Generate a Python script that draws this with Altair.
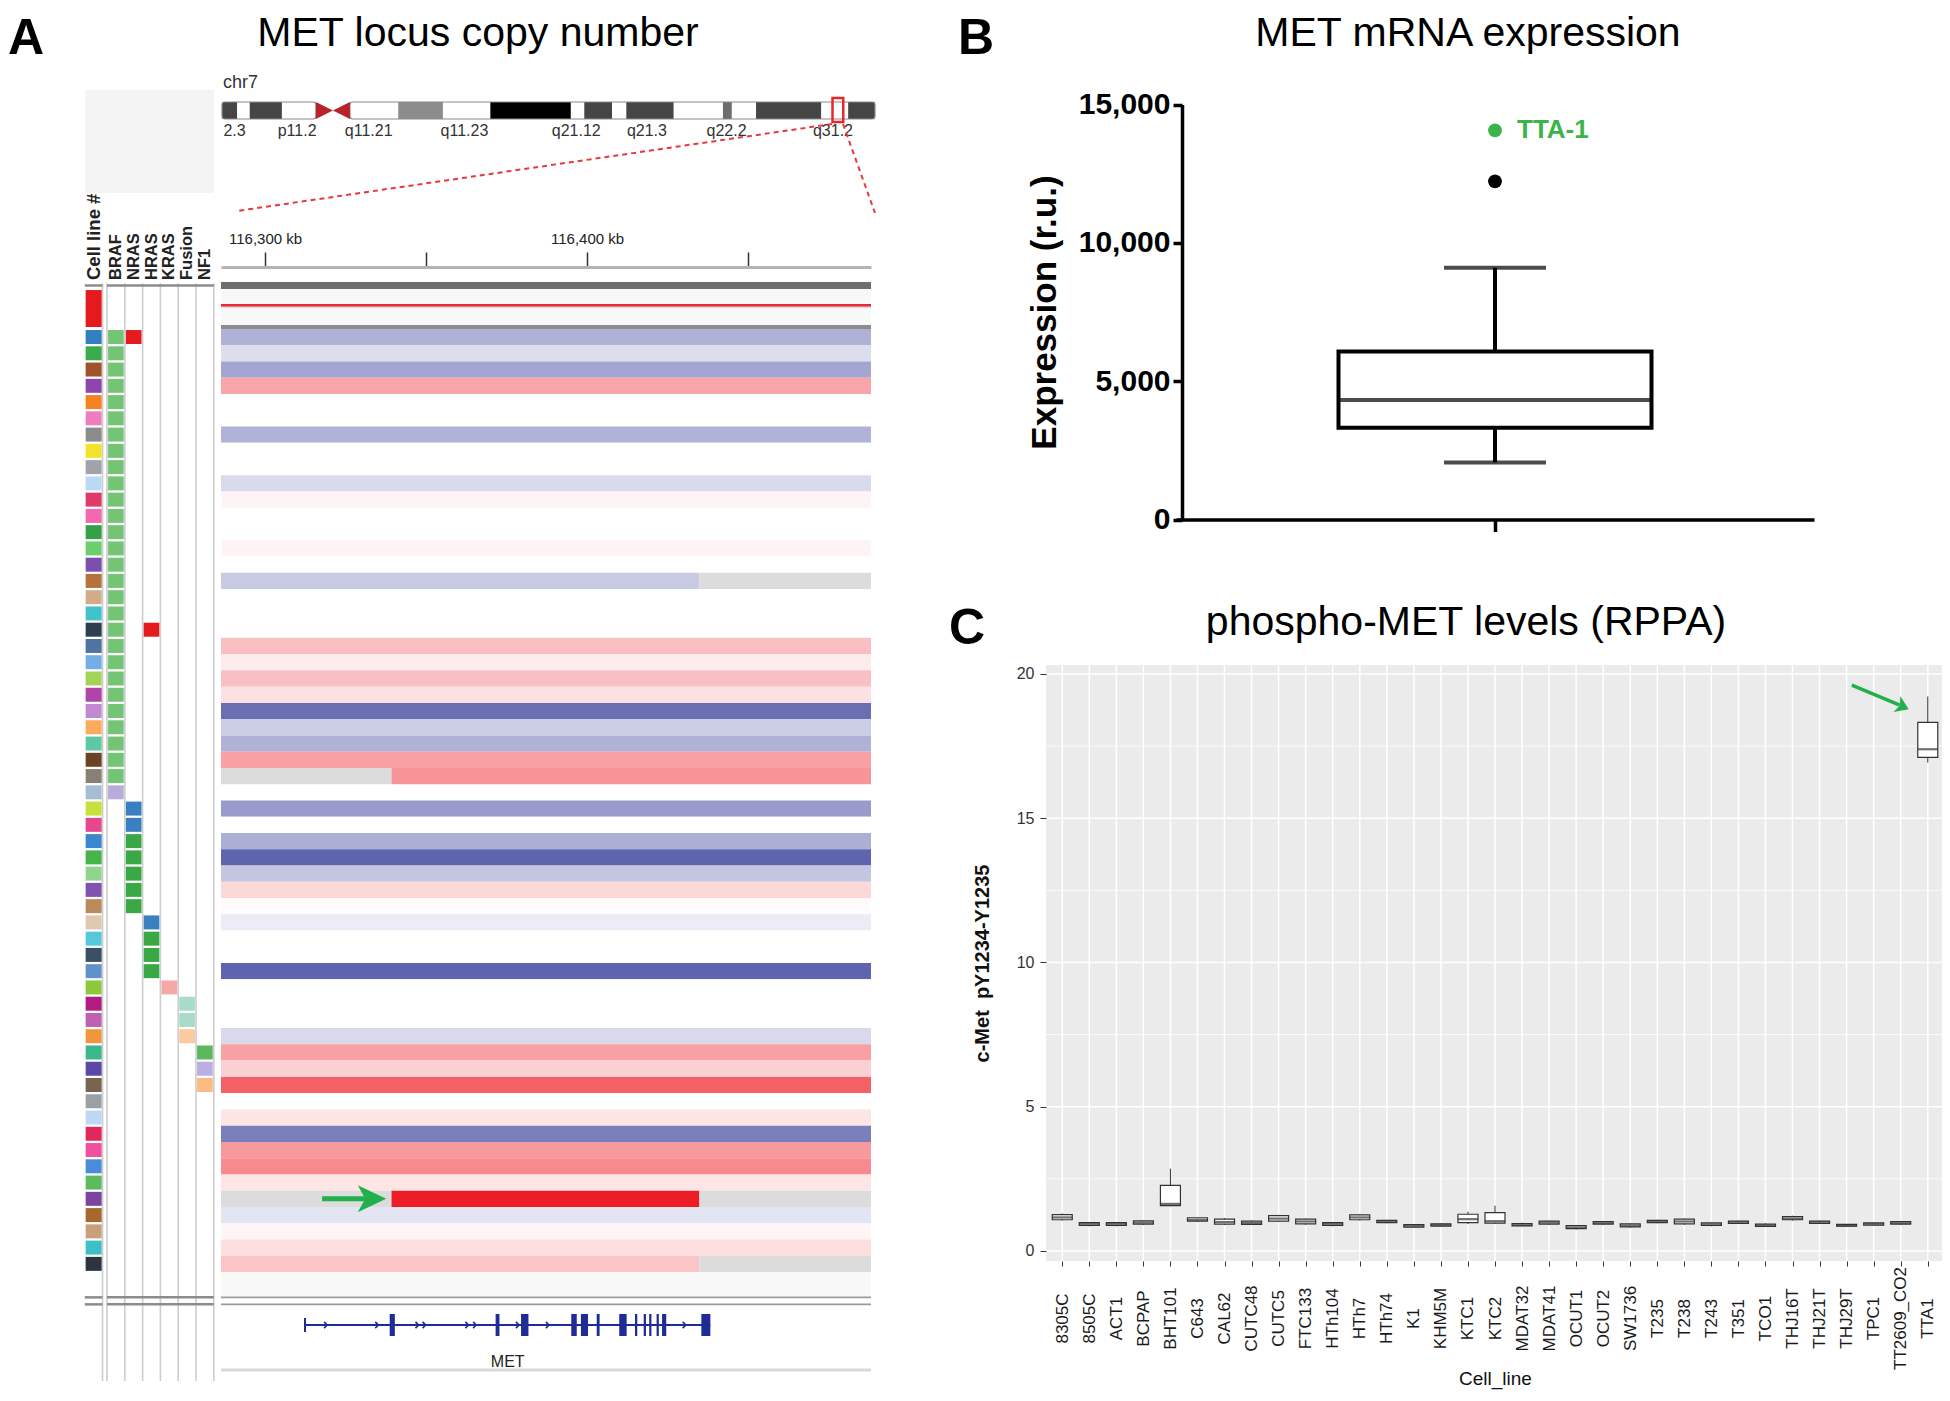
import altair as alt
import pandas as pd

FONT = "Liberation Sans"
W, H = 1934, 1385
GREEN = "#21b04b"
NAVY = "#202c96"

# ===================== Panel A : data =====================
ROWS = list(range(1, 59))

CELL_LINE_COLORS = [
    "#2f7fc1", "#3cab4a", "#a0522d", "#8e44ad", "#f58220", "#f07cc0", "#8c8c8c", "#f2e22a", "#a0a4a8", "#b9d9f5",
    "#e03a6a", "#f368b0", "#35a045", "#6ccf6c", "#7b4fae", "#b5723c", "#d2ab88", "#42c2cc", "#2c3e50", "#4f74a0",
    "#73aee6", "#a4d455", "#b044a8", "#c18ad0", "#fcaa5c", "#5cc8a4", "#6b4426", "#8a7f74", "#a8bcd4", "#c8e03c",
    "#e8468e", "#3a87d0", "#45b449", "#8ed68e", "#8252b0", "#b88a5c", "#e0c8b0", "#55c8dc", "#3a4e66", "#6092c8",
    "#8cc83c", "#b01c80", "#c060b0", "#f0963c", "#3cb88c", "#5a4aa8", "#7a6450", "#9aa0a6", "#bcd8f4", "#e0285c",
    "#f050a0", "#4a8cd8", "#5cbc5c", "#7c44a0", "#a8682c", "#c8a07c", "#3cc0c4", "#2c3440",
]

GENES = ["BRAF", "NRAS", "HRAS", "KRAS", "Fusion", "NF1"]
HEADERS = ["Cell line #"] + GENES
HEADER_POS = [-0.75, 0.5, 1.5, 2.5, 3.5, 4.5, 5.5]

MUT_ROW = [1, 2, 3, 4, 5, 6, 7, 8, 9, 10, 11, 12, 13, 14, 15, 16, 17, 18, 19, 20,
           21, 22, 23, 24, 25, 26, 27, 28, 29,
           1, 30, 31, 32, 33, 34, 35, 36,
           19, 37, 38, 39, 40,
           41,
           42, 43, 44,
           45, 46, 47]
MUT_GENE = ["BRAF"] * 29 + ["NRAS"] * 8 + ["HRAS"] * 5 + ["KRAS"] + ["Fusion"] * 3 + ["NF1"] * 3
MUT_KIND = (["V600E"] * 28 + ["non-V600E"]
            + ["co-mutation", "Q61R", "Q61R", "Q61K", "Q61K", "Q61K", "Q61K", "Q61K"]
            + ["co-mutation", "Q61R", "Q61K", "Q61K", "Q61K"]
            + ["G12/13"]
            + ["fusion-1", "fusion-1", "fusion-2"]
            + ["NF1-a", "NF1-b", "NF1-c"])
KIND_DOMAIN = ["V600E", "non-V600E", "co-mutation", "Q61R", "Q61K", "G12/13",
               "fusion-1", "fusion-2", "NF1-a", "NF1-b", "NF1-c"]
KIND_COLORS = ["#74c476", "#b9acdc", "#e41a1c", "#3a7fc0", "#3aa845", "#f4a9a8",
               "#a8dcc8", "#fdc99f", "#5cb85c", "#bcaee0", "#fdbb84"]

# log2 copy-number ratio of each row over the MET window (None = row with breakpoints)
CN_LOG2 = [
    -0.60, -0.26, -0.69, 0.59, 0.00, 0.00, -0.59, 0.00, 0.00, -0.28,
    0.07, 0.00, 0.00, 0.07, 0.00, None, 0.00, 0.00, 0.00, 0.42,
    0.13, 0.42, 0.20, -1.11, -0.38, -0.60, 0.63, None, 0.00, -0.77,
    0.00, -0.63, -1.20, -0.44, 0.26, 0.03, -0.15, 0.00, 0.00, -1.20,
    0.00, 0.00, 0.00, -0.29, 0.63, 0.31, 1.05, 0.00, 0.17, -0.99,
    0.67, 0.77, 0.18, None, -0.20, 0.06, 0.22, None,
]
VIEW_KB = [116286.3, 116488.2]
SEG_ROW = [16, 16, 28, 28, 54, 54, 54, 58, 58]
SEG_FROM = [None, 116434.9, None, 116339.2, None, 116339.2, 116434.9, None, 116434.9]
SEG_TO = [116434.9, None, 116339.2, None, 116339.2, 116434.9, None, 116434.9, None]
SEG_VAL = [-0.41, None, None, 0.71, None, 1.50, None, 0.38, None]

# MET gene model (kb)
GENE_START, GENE_END = 116312.4, 116438.3
EXON_START = [116338.7, 116371.6, 116379.5, 116395.1, 116398.1, 116403.0, 116410.0,
              116414.9, 116417.6, 116419.3, 116421.6, 116423.3, 116435.5]
EXON_END = [116340.3, 116372.8, 116381.8, 116396.8, 116400.3, 116403.9, 116412.3,
            116415.6, 116418.3, 116420.0, 116422.3, 116424.6, 116438.3]
CHEVRON_KB = [116318.8, 116334.7, 116347.2, 116349.4, 116362.7, 116365.1, 116378.4, 116387.7, 116430.2]
RULER_TICKS = [116300, 116350, 116400, 116450]

# chr7 ideogram (Mb)
BAND_START = [47.5, 49.2, 50.6, 54.2, 61.8, 67.2, 72.2, 77.5, 86.5, 88.0, 91.1, 92.7, 98.0, 103.5, 104.5, 107.2, 114.5, 117.5]
BAND_END = [49.2, 50.6, 54.2, 58.0, 67.2, 72.2, 77.5, 86.5, 88.0, 91.1, 92.7, 98.0, 103.5, 104.5, 107.2, 114.5, 117.5, 120.5]
BAND_STAIN = ["gpos75", "gneg", "gpos75", "gneg", "gneg", "gpos25", "gneg", "gpos100", "gneg",
              "gpos75", "gneg", "gpos75", "gneg", "gpos50", "gneg", "gpos75", "gneg", "gpos75"]
STAIN_DOMAIN = ["gneg", "gpos25", "gpos50", "gpos75", "gpos100"]
STAIN_COLORS = ["#ffffff", "#8c8c8c", "#6e6e6e", "#454545", "#000000"]
CEN_MB = [58.0, 59.9, 61.8]
CEN_LO = [0.0, 0.5, 0.0]
CEN_HI = [1.0, 0.5, 1.0]
ARM_START = [47.5, 61.8]
ARM_END = [58.0, 120.5]
VIEW_BOX_MB = [115.75, 116.95]
BAND_LABEL = ["2.3", "p11.2", "q11.21", "q11.23", "q21.12", "q21.3", "q22.2", "q31.2"]
BAND_LABEL_MB = [48.9, 55.9, 63.9, 74.6, 87.1, 95.0, 103.9, 115.8]

# ===================== Panel B : data =====================
MRNA_GROUP = ["MET"]
MRNA_MIN, MRNA_Q1, MRNA_MED, MRNA_Q3, MRNA_MAX = 2065, 3320, 4320, 6070, 9100
MRNA_OUTLIER = [12225]
MRNA_TTA1 = [14070]
MRNA_TTA1_LABEL = ["TTA-1"]
MRNA_TICKS = [0, 5000, 10000, 15000]

# ===================== Panel C : data =====================
C_CELLS = ["8305C", "8505C", "ACT1", "BCPAP", "BHT101", "C643", "CAL62", "CUTC48", "CUTC5", "FTC133",
           "HTh104", "HTh7", "HTh74", "K1", "KHM5M", "KTC1", "KTC2", "MDAT32", "MDAT41", "OCUT1",
           "OCUT2", "SW1736", "T235", "T238", "T243", "T351", "TCO1", "THJ16T", "THJ21T", "THJ29T",
           "TPC1", "TT2609_CO2", "TTA1"]
C_MIN = [1.05, 0.85, 0.85, 0.90, 1.55, 1.00, 0.90, 0.90, 1.00, 0.90, 0.85, 1.05, 0.96, 0.80, 0.84, 0.93, 0.93,
         0.85, 0.90, 0.74, 0.90, 0.80, 0.96, 0.90, 0.85, 0.93, 0.83, 1.05, 0.93, 0.84, 0.87, 0.90, 16.93]
C_Q1 = [1.08, 0.88, 0.88, 0.93, 1.57, 1.03, 0.93, 0.92, 1.03, 0.94, 0.88, 1.08, 0.98, 0.82, 0.86, 0.98, 0.96,
        0.87, 0.93, 0.77, 0.93, 0.83, 0.98, 0.94, 0.88, 0.95, 0.85, 1.08, 0.95, 0.86, 0.89, 0.93, 17.11]
C_MED = [1.16, 0.93, 0.93, 0.98, 1.63, 1.08, 1.00, 0.97, 1.12, 1.02, 0.93, 1.16, 1.02, 0.86, 0.90, 1.10, 1.03,
         0.90, 0.98, 0.82, 0.97, 0.88, 1.02, 1.02, 0.92, 0.99, 0.88, 1.12, 0.99, 0.88, 0.93, 0.97, 17.39]
C_Q3 = [1.26, 0.98, 0.98, 1.04, 2.27, 1.15, 1.10, 1.03, 1.22, 1.10, 0.98, 1.25, 1.06, 0.91, 0.94, 1.27, 1.33,
        0.95, 1.03, 0.88, 1.02, 0.94, 1.06, 1.10, 0.97, 1.03, 0.93, 1.19, 1.03, 0.92, 0.97, 1.02, 18.32]
C_MAX = [1.30, 1.00, 1.00, 1.06, 2.85, 1.17, 1.14, 1.05, 1.25, 1.12, 1.00, 1.28, 1.08, 0.93, 0.96, 1.36, 1.57,
         0.98, 1.05, 0.90, 1.04, 0.96, 1.08, 1.12, 0.99, 1.05, 0.96, 1.22, 1.05, 0.93, 0.99, 1.04, 19.22]
C_TICKS = [0, 5, 10, 15, 20]

# ===================== helpers =====================
ONE = pd.DataFrame({"k": [0]})


def lin(domain, rng):
    return alt.Scale(type="linear", domain=domain, range=rng, nice=False, zero=False)


def xq(field, scale, axis=None):
    return alt.X(field, type="quantitative", scale=scale, axis=axis)


def yq(field, scale, axis=None):
    return alt.Y(field, type="quantitative", scale=scale, axis=axis)


def xd(v, scale, t="quantitative"):
    return alt.XDatum(v, type=t, scale=scale, axis=None)


def yd(v, scale):
    return alt.YDatum(v, type="quantitative", scale=scale, axis=None)


def label(text, x, y, size, weight="normal", align="center", color="black", baseline="alphabetic"):
    return alt.Chart(pd.DataFrame({"t": [text]})).mark_text(
        font=FONT, fontSize=size, fontWeight=weight, align=align, baseline=baseline, color=color
    ).encode(x=alt.value(x), y=alt.value(y), text="t:N")


units = []

# ===================== Panel A : scales =====================
COL_X = lin([-1.25, 6.0], [76.75, 205.8])
ROW_Y = lin([0.5, 58.5], [320.9, 1264.0])
KB_X = lin(VIEW_KB, [213.0, 863.0])
MB_X = lin([47.5, 120.5], [214.0, 867.0])
IDEO_Y = lin([0.0, 1.0], [111.0, 94.0])
CN_COLOR = alt.Scale(type="linear", domain=[-1.5, 0.0, 1.5],
                     range=["#363d9a", "#ffffff", "#ee1c24"], interpolate="rgb")

units.append(alt.Chart(ONE).mark_rect(color="#f4f4f4").encode(
    x=alt.value(77), x2=alt.value(206), y=alt.value(82), y2=alt.value(185)))

# ---- left annotation columns ----
grid_df = pd.DataFrame({"xb": [-0.25, 0, 1, 2, 3, 4, 5, 6]})
units.append(alt.Chart(grid_df).mark_rule(color="#cdcdcd", strokeWidth=1.6).encode(
    x=xq("xb", COL_X), y=yd(-2.3, ROW_Y), y2=alt.datum(65.2)))

sep_df = pd.DataFrame({"x0": [-1.25, 0, -1.25, 0, -1.25, 0],
                       "x1": [-0.25, 6, -0.25, 6, -0.25, 6],
                       "yr": [-2.17, -2.17, 60.06, 60.06, 60.49, 60.49]})
units.append(alt.Chart(sep_df).mark_rule(color="#8c8c8c", strokeWidth=2.5).encode(
    x=xq("x0", COL_X), x2="x1:Q", y=yq("yr", ROW_Y)))

cell_df = pd.DataFrame({"row": ROWS})
cell_df["x0"] = -1.2
cell_df["x1"] = -0.3
cell_df["y0"] = cell_df["row"] - 0.43
cell_df["y1"] = cell_df["row"] + 0.43
units.append(alt.Chart(cell_df).mark_rect().encode(
    x=xq("x0", COL_X), x2="x1:Q", y=yq("y0", ROW_Y), y2="y1:Q",
    color=alt.Color("row:N", scale=alt.Scale(domain=ROWS, range=CELL_LINE_COLORS), legend=None)))

units.append(alt.Chart(ONE).mark_rect(color="#e41a1c").encode(
    x=xd(-1.2, COL_X), x2=alt.datum(-0.3), y=yd(-1.89, ROW_Y), y2=alt.datum(0.385)))

mut_df = pd.DataFrame({"row": MUT_ROW, "gene": MUT_GENE, "kind": MUT_KIND})
mut_df["gi"] = mut_df["gene"].map({g: i for i, g in enumerate(GENES)})
mut_df["x0"] = mut_df["gi"] + 0.06
mut_df["x1"] = mut_df["gi"] + 0.94
mut_df["y0"] = mut_df["row"] - 0.43
mut_df["y1"] = mut_df["row"] + 0.43
units.append(alt.Chart(mut_df).mark_rect().encode(
    x=xq("x0", COL_X), x2="x1:Q", y=yq("y0", ROW_Y), y2="y1:Q",
    color=alt.Color("kind:N", scale=alt.Scale(domain=KIND_DOMAIN, range=KIND_COLORS), legend=None)))

hdr_df = pd.DataFrame({"label": HEADERS, "xc": HEADER_POS})
units.append(alt.Chart(hdr_df.iloc[:1]).mark_text(angle=270, align="left", baseline="middle",
                                                  fontSize=18.5, fontWeight="bold", color="#222").encode(
    x=xq("xc", COL_X), y=alt.value(272), text="label:N"))
units.append(alt.Chart(hdr_df.iloc[1:]).mark_text(angle=270, align="left", baseline="middle",
                                                  fontSize=16.5, fontWeight="bold", color="#222").encode(
    x=xq("xc", COL_X), y=alt.value(272), text="label:N"))

# ---- copy number heatmap ----
recs = []
for r, v in zip(ROWS, CN_LOG2):
    if r in SEG_ROW:
        continue
    recs.append((r, VIEW_KB[0], VIEW_KB[1], v))
for r, a, b, v in zip(SEG_ROW, SEG_FROM, SEG_TO, SEG_VAL):
    recs.append((r, VIEW_KB[0] if a is None else a, VIEW_KB[1] if b is None else b, v))
seg = pd.DataFrame(recs, columns=["row", "start", "end", "cn"])
seg["cn"] = pd.to_numeric(seg["cn"])
seg["y0"] = seg["row"] - 0.5
seg["y1"] = seg["row"] + 0.5
cn_df = seg[seg["cn"].notna()].reset_index(drop=True)
na_df = seg[seg["cn"].isna()].reset_index(drop=True)

RULER_AXIS = alt.Axis(orient="top", offset=-259, values=RULER_TICKS,
                      labelExpr="datum.value % 100 === 0 ? format(datum.value, ',') + ' kb' : ''",
                      tickSize=15, tickWidth=1.5, tickColor="#333333", domainColor="#b4b4b4",
                      domainWidth=3, labelFontSize=15, labelColor="#222222", labelPadding=6,
                      labelFlush=False, labelOverlap=False, title=None, grid=False, zindex=1)

units.append(alt.Chart(cn_df).mark_rect().encode(
    x=alt.X("start:Q", scale=KB_X, axis=RULER_AXIS), x2="end:Q",
    y=yq("y0", ROW_Y), y2="y1:Q",
    color=alt.Color("cn:Q", scale=CN_COLOR, legend=None)))
units.append(alt.Chart(na_df).mark_rect(color="#dcdcdc").encode(
    x=xq("start", KB_X), x2="end:Q", y=yq("y0", ROW_Y), y2="y1:Q"))

TRACK_DECOR = [(-1.95, 0.26, "#f8f8f8"), (58.5, 60.0, "#f8f8f8"),
               (-2.38, -1.95, "#6e6e6e"), (-1.03, -0.86, "#e8282c"), (-0.86, -0.77, "#dcdaf0"),
               (0.26, 0.5, "#8c8c8c"), (60.0, 60.12, "#9c9c9c"), (60.43, 60.55, "#9c9c9c")]
for a, b, c in TRACK_DECOR:
    units.append(alt.Chart(ONE).mark_rect(color=c).encode(
        x=xd(VIEW_KB[0], KB_X), x2=alt.datum(VIEW_KB[1]), y=yd(a, ROW_Y), y2=alt.datum(b)))

ARROW_A_ROW = 54
ARROW_A_KB = [116317.7, 116333.2, 116337.6]  # tail, shaft end, tip
HEAD = "M0,0 L-2.1,-1 L-1.55,0 L-2.1,1 Z"
units.append(alt.Chart(ONE).mark_rule(color=GREEN, strokeWidth=5).encode(
    x=xd(ARROW_A_KB[0], KB_X), x2=alt.datum(ARROW_A_KB[1]), y=yd(ARROW_A_ROW, ROW_Y)))
units.append(alt.Chart(ONE).mark_point(shape=HEAD, filled=True, size=730, color=GREEN,
                                       opacity=1, strokeWidth=0).encode(
    x=xd(ARROW_A_KB[2], KB_X), y=yd(ARROW_A_ROW, ROW_Y)))

# ---- gene track ----
gene_base = alt.Chart(pd.DataFrame({"s": [GENE_START], "e": [GENE_END]}))
units.append(alt.Chart(ONE).mark_rule(color="#d9d9d9", strokeWidth=3).encode(
    x=xd(VIEW_KB[0], KB_X), x2=alt.datum(VIEW_KB[1]), y=alt.value(1362)))
units.append(gene_base.mark_rule(color=NAVY, strokeWidth=2).encode(
    x=xq("s", KB_X), x2="e:Q", y=alt.value(1317)))
units.append(gene_base.mark_rule(color=NAVY, strokeWidth=2).encode(
    x=xq("s", KB_X), y=alt.value(1310), y2=alt.value(1324)))
units.append(alt.Chart(pd.DataFrame({"s": EXON_START, "e": EXON_END})).mark_rect(color=NAVY).encode(
    x=xq("s", KB_X), x2="e:Q", y=alt.value(1306), y2=alt.value(1328)))
units.append(alt.Chart(pd.DataFrame({"kb": CHEVRON_KB})).mark_point(
    shape="M-0.5,-1L0.5,0L-0.5,1", filled=False, size=40, strokeWidth=1.6, color=NAVY, opacity=1).encode(
    x=xq("kb", KB_X), y=alt.value(1317)))
units.append(alt.Chart(pd.DataFrame({"name": ["MET"], "mid": [(GENE_START + GENE_END) / 2]})).mark_text(
    fontSize=16, color="#222", baseline="middle").encode(
    x=xq("mid", KB_X), y=alt.value(1354), text="name:N"))

# ---- chromosome ideogram ----
units.append(alt.Chart(pd.DataFrame({"s": BAND_START, "e": BAND_END, "stain": BAND_STAIN})).mark_rect().encode(
    x=xq("s", MB_X), x2="e:Q", y=yd(0, IDEO_Y), y2=alt.datum(1),
    color=alt.Color("stain:N", scale=alt.Scale(domain=STAIN_DOMAIN, range=STAIN_COLORS), legend=None)))
units.append(alt.Chart(pd.DataFrame({"s": ARM_START, "e": ARM_END})).mark_rect(
    fillOpacity=0, stroke="#8a8a8a", strokeWidth=1.2, cornerRadius=3).encode(
    x=xq("s", MB_X), x2="e:Q", y=yd(0, IDEO_Y), y2=alt.datum(1)))
units.append(alt.Chart(pd.DataFrame({"mb": CEN_MB, "lo": CEN_LO, "hi": CEN_HI})).mark_area(color="#b8232a").encode(
    x=xq("mb", MB_X), y=yq("lo", IDEO_Y), y2="hi:Q"))
units.append(alt.Chart(ONE).mark_rect(fillOpacity=0, stroke="#e8262c", strokeWidth=2.5).encode(
    x=xd(VIEW_BOX_MB[0], MB_X), x2=alt.datum(VIEW_BOX_MB[1]), y=yd(-0.18, IDEO_Y), y2=alt.datum(1.24)))
units.append(alt.Chart(pd.DataFrame({"t": BAND_LABEL, "mb": BAND_LABEL_MB})).mark_text(
    fontSize=16, color="#333", baseline="middle").encode(
    x=xq("mb", MB_X), y=alt.value(123), text="t:N"))

units.append(alt.Chart(ONE).mark_rule(color="#e8383d", strokeWidth=2, strokeDash=[5, 4]).encode(
    x=alt.value(824), y=alt.value(116), x2=alt.value(229), y2=alt.value(203)))
units.append(alt.Chart(ONE).mark_rule(color="#e8383d", strokeWidth=2, strokeDash=[5, 4]).encode(
    x=alt.value(835), y=alt.value(116), x2=alt.value(867), y2=alt.value(205)))

# ===================== Panel B =====================
B_X = alt.Scale(type="point", domain=MRNA_GROUP, range=[1168, 1806], padding=0.5)
B_Y = lin([0, 15000], [511.5, 96.6])
B_XAXIS = alt.Axis(orient="bottom", offset=-(H - 511.5), labels=False, title=None, grid=False,
                   tickSize=12, tickWidth=3.5, tickColor="black", domainColor="black", domainWidth=3.5,
                   zindex=1)
B_YAXIS = alt.Axis(orient="left", offset=-1174, values=MRNA_TICKS,
                   labelExpr="format(datum.value, ',')", grid=False,
                   labelFontSize=30, labelFontWeight="bold", labelColor="black", labelPadding=3,
                   tickSize=9, tickWidth=3.5, tickColor="black", domainColor="black", domainWidth=3.5,
                   title="Expression (r.u.)", titleFontSize=35, titleFontWeight="bold", titleColor="black",
                   titlePadding=16, zindex=1)
b_df = pd.DataFrame({"g": MRNA_GROUP, "lo": [MRNA_MIN], "q1": [MRNA_Q1], "med": [MRNA_MED],
                     "q3": [MRNA_Q3], "hi": [MRNA_MAX]})
b_base = alt.Chart(b_df)
units.append(b_base.mark_rule(color="black", strokeWidth=4).encode(
    x=alt.X("g:N", scale=B_X, axis=B_XAXIS), y=alt.Y("lo:Q", scale=B_Y, axis=B_YAXIS), y2="hi:Q"))
units.append(b_base.mark_tick(color="black", size=102, thickness=4).encode(
    x=alt.X("g:N", scale=B_X, axis=None), y=yq("lo", B_Y)))
units.append(b_base.mark_tick(color="black", size=102, thickness=4).encode(
    x=alt.X("g:N", scale=B_X, axis=None), y=yq("hi", B_Y)))
units.append(b_base.mark_bar(size=313, fill="white", stroke="black", strokeWidth=4).encode(
    x=alt.X("g:N", scale=B_X, axis=None), y=yq("q1", B_Y), y2="q3:Q"))
units.append(b_base.mark_tick(color="black", size=313, thickness=4).encode(
    x=alt.X("g:N", scale=B_X, axis=None), y=yq("med", B_Y)))
units.append(alt.Chart(pd.DataFrame({"g": MRNA_GROUP * len(MRNA_OUTLIER), "v": MRNA_OUTLIER})).mark_circle(
    size=190, color="black", opacity=1).encode(x=alt.X("g:N", scale=B_X, axis=None), y=yq("v", B_Y)))
tta_df = pd.DataFrame({"g": MRNA_GROUP, "v": MRNA_TTA1, "lab": MRNA_TTA1_LABEL})
units.append(alt.Chart(tta_df).mark_circle(size=190, color="#3cb44a", opacity=1).encode(
    x=alt.X("g:N", scale=B_X, axis=None), y=yq("v", B_Y)))
units.append(alt.Chart(tta_df).mark_text(dx=22, align="left", baseline="middle", fontSize=26,
                                         fontWeight="bold", color="#3cb44a").encode(
    x=alt.X("g:N", scale=B_X, axis=None), y=yq("v", B_Y), text="lab:N"))

# ===================== Panel C =====================
C_PAD = 0.6
C_RANGE = [1038, 1936]
STEP = (C_RANGE[1] - C_RANGE[0]) / (len(C_CELLS) - 1 + 2 * C_PAD)
HALF = C_PAD * STEP
C_X = alt.Scale(type="point", domain=C_CELLS, range=C_RANGE, padding=C_PAD)
C_Y = lin([-0.35, 20.31], [1253, 657])
C_XAXIS = alt.Axis(orient="bottom", offset=-(H - 1253), labelAngle=270, labelAlign="center",
                   labelBaseline="middle", labelFontSize=17, labelColor="#1a1a1a", labelPadding=52,
                   labelOverlap=False, tickSize=5, tickColor="#333333", tickWidth=1, domain=False,
                   grid=False, title="Cell_line", titleFontSize=19, titleFontWeight="normal",
                   titleColor="#111111", titleBaseline="alphabetic", titleY=H - 1253 - 9, zindex=1)
C_YAXIS = alt.Axis(orient="left", offset=-C_RANGE[0], values=C_TICKS, labelFontSize=16,
                   labelColor="#333333", labelPadding=6, tickSize=6, tickColor="#333333", domain=False,
                   grid=False, title="c-Met\u00a0 pY1234-Y1235", titleFontSize=20, titleFontWeight="bold",
                   titleColor="#111111", titlePadding=24, zindex=1)

units.append(alt.Chart(ONE).mark_rect(color="#ebebeb", xOffset=-HALF, x2Offset=HALF).encode(
    x=xd(C_CELLS[0], C_X, "nominal"), x2=alt.datum(C_CELLS[-1]),
    y=yd(-0.35, C_Y), y2=alt.datum(20.31)))
units.append(alt.Chart(pd.DataFrame({"v": [2.5, 7.5, 12.5, 17.5]})).mark_rule(
    color="white", strokeWidth=0.8, xOffset=-HALF, x2Offset=HALF).encode(
    x=xd(C_CELLS[0], C_X, "nominal"), x2=alt.datum(C_CELLS[-1]), y=yq("v", C_Y)))
units.append(alt.Chart(pd.DataFrame({"v": C_TICKS})).mark_rule(
    color="white", strokeWidth=1.5, xOffset=-HALF, x2Offset=HALF).encode(
    x=xd(C_CELLS[0], C_X, "nominal"), x2=alt.datum(C_CELLS[-1]), y=yq("v", C_Y)))
units.append(alt.Chart(pd.DataFrame({"cell": C_CELLS})).mark_rule(color="white", strokeWidth=1.5).encode(
    x=alt.X("cell:N", scale=C_X, axis=None), y=yd(-0.35, C_Y), y2=alt.datum(20.31)))

c_df = pd.DataFrame({"cell": C_CELLS, "lo": C_MIN, "q1": C_Q1, "med": C_MED, "q3": C_Q3, "hi": C_MAX})
units.append(alt.Chart(c_df).mark_rule(color="#333333", strokeWidth=1).encode(
    x=alt.X("cell:N", scale=C_X, axis=C_XAXIS), y=alt.Y("lo:Q", scale=C_Y, axis=C_YAXIS), y2="hi:Q"))
units.append(alt.Chart(c_df).mark_bar(size=20, fill="white", stroke="#333333", strokeWidth=1.2).encode(
    x=alt.X("cell:N", scale=C_X, axis=None), y=yq("q1", C_Y), y2="q3:Q"))
units.append(alt.Chart(c_df).mark_tick(size=20, thickness=2.2, color="#333333").encode(
    x=alt.X("cell:N", scale=C_X, axis=None), y=yq("med", C_Y)))

ARROW_C_CELL = "TTA1"
ARROW_C_VAL = [19.61, 18.92, 18.78]   # tail, shaft end, tip
ARROW_C_OFF = [-76.0, -28.0, -19.0]
units.append(alt.Chart(ONE).mark_rule(color=GREEN, strokeWidth=3.5, xOffset=ARROW_C_OFF[0],
                                      x2Offset=ARROW_C_OFF[1]).encode(
    x=xd(ARROW_C_CELL, C_X, "nominal"), x2=alt.datum(ARROW_C_CELL),
    y=yd(ARROW_C_VAL[0], C_Y), y2=alt.datum(ARROW_C_VAL[1])))
units.append(alt.Chart(ONE).mark_point(shape="M0,0 L-1.5,-1 L-1.1,0 L-1.5,1 Z", filled=True, size=300,
                                       angle=23, color=GREEN, opacity=1, strokeWidth=0,
                                       xOffset=ARROW_C_OFF[2]).encode(
    x=xd(ARROW_C_CELL, C_X, "nominal"), y=yd(ARROW_C_VAL[2], C_Y)))

# ===================== titles =====================
units += [
    label("A", 0, 46, 50, "bold", "left"),
    label("B", 950, 46, 50, "bold", "left"),
    label("C", 941, 636, 50, "bold", "left"),
    label("MET locus copy number", 470, 38, 41),
    label("MET mRNA expression", 1460, 38, 41),
    label("phospho-MET levels (RPPA)", 1458, 627, 41),
    label("chr7", 215, 80, 18, align="left", color="#333333"),
]

chart = alt.layer(*units).resolve_scale(
    x="independent", y="independent", color="independent"
).properties(
    width=W, height=H, padding=0, autosize=alt.AutoSizeParams(type="none"), background="white"
).configure(font=FONT).configure_view(stroke=None)

chart.save("out.html", embed_options={"renderer": "svg", "actions": False})
